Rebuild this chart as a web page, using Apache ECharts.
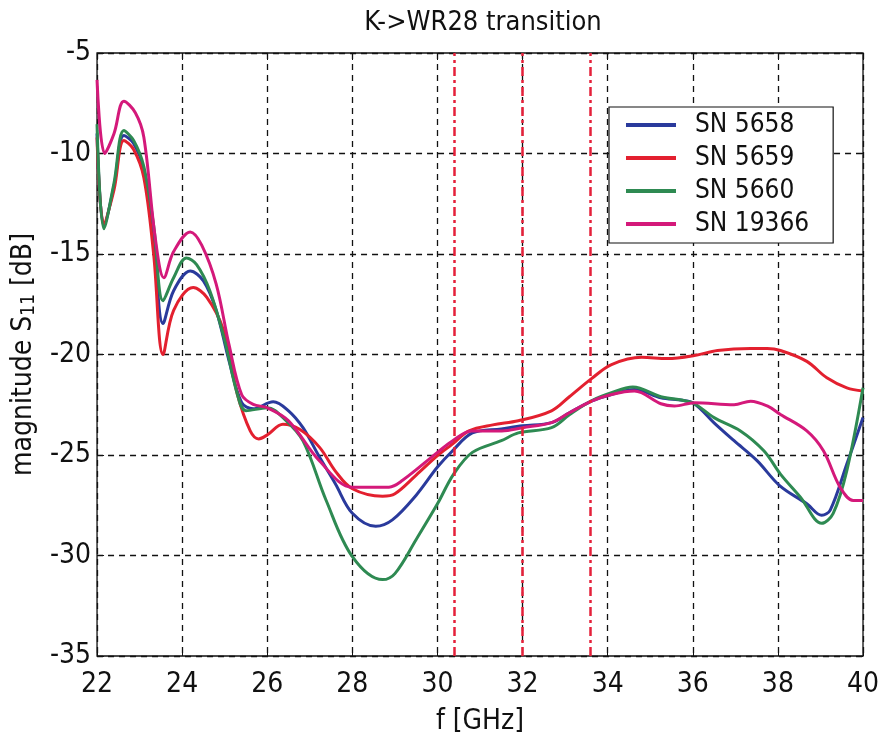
<!DOCTYPE html>
<html>
<head>
<meta charset="utf-8">
<script src="https://cdn.jsdelivr.net/npm/echarts@6/dist/echarts.min.js"></script>
<style>
  html, body { margin: 0; padding: 0; background: #fff; }
  #chart { width: 885px; height: 741px; }
</style>
</head>
<body>
<div id="chart"></div>
<script>
// S11 magnitude vs frequency, K->WR28 transition
var xTicks = [22, 24, 26, 28, 30, 32, 34, 36, 38, 40];
var yTicks = [-35, -30, -25, -20, -15, -10, -5];
var bandLines = [30.4, 32, 33.6];

var sn5658 = [
  [22.0, -9.0], [22.16, -13.6], [22.4, -11.6], [22.63, -9.1], [22.86, -9.5], [23.1, -10.8],
  [23.33, -14.2], [23.55, -18.46], [23.8, -16.83], [24.19, -15.85], [24.5, -16.34], [24.8, -17.8],
  [25.1, -20.3], [25.4, -22.4], [25.67, -22.7], [26.14, -22.35], [26.5, -22.8], [26.84, -23.64],
  [27.2, -25.0], [27.6, -26.43], [28.0, -27.9], [28.55, -28.55], [28.94, -28.23], [29.5, -27.0],
  [30.0, -25.6], [30.35, -24.8], [30.82, -23.9], [31.5, -23.7], [32.0, -23.55], [32.68, -23.39],
  [33.1, -22.9], [33.62, -22.32], [34.09, -21.99], [34.63, -21.74], [35.25, -22.15], [35.76, -22.28],
  [36.04, -22.45], [36.5, -23.4], [36.97, -24.29], [37.51, -25.28], [38.04, -26.52], [38.68, -27.43],
  [39.03, -28.0], [39.23, -27.74], [39.62, -25.45], [40.0, -23.14]
];
var sn5659 = [
  [22.0, -9.2], [22.16, -13.5], [22.4, -11.8], [22.63, -9.35], [22.86, -9.8], [23.1, -11.2],
  [23.33, -15.0], [23.55, -20.0], [23.8, -17.8], [24.26, -16.67], [24.58, -17.16], [24.97, -18.78],
  [25.3, -22.0], [25.6, -23.8], [25.8, -24.2], [26.0, -24.0], [26.37, -23.47], [26.76, -23.72],
  [27.23, -24.62], [27.6, -25.8], [28.0, -26.68], [28.71, -27.05], [29.0, -26.93], [29.5, -26.0],
  [30.0, -25.03], [30.35, -24.46], [30.74, -23.8], [31.3, -23.5], [31.9, -23.3], [32.68, -22.8],
  [33.1, -22.1], [33.62, -21.2], [34.09, -20.5], [34.8, -20.14], [35.4, -20.2], [36.04, -20.05],
  [36.58, -19.8], [37.36, -19.7], [37.75, -19.7], [38.06, -19.8], [38.68, -20.34], [39.15, -21.16],
  [39.62, -21.66], [40.0, -21.82]
];
var sn5660 = [
  [22.0, -8.54], [22.16, -13.74], [22.4, -11.46], [22.63, -8.86], [22.86, -9.35], [23.1, -10.65],
  [23.33, -13.58], [23.55, -17.32], [23.8, -16.18], [24.1, -15.2], [24.34, -15.53], [24.65, -16.83],
  [25.0, -19.3], [25.3, -22.0], [25.5, -22.8], [26.0, -22.65], [26.4, -23.2], [26.84, -24.3],
  [27.38, -27.24], [28.0, -30.06], [28.71, -31.2], [29.0, -30.9], [29.5, -29.2], [30.0, -27.43],
  [30.38, -25.95], [30.82, -24.87], [31.5, -24.29], [31.9, -23.9], [32.68, -23.64], [33.1, -23.0],
  [33.62, -22.3], [34.09, -21.9], [34.59, -21.62], [35.25, -22.1], [35.76, -22.28], [36.04, -22.45],
  [36.5, -23.14], [37.12, -23.8], [37.67, -24.79], [38.06, -25.95], [38.53, -27.1], [39.03, -28.4],
  [39.3, -27.9], [39.62, -25.78], [40.0, -21.66]
];
var sn19366 = [
  [22.0, -6.34], [22.18, -10.0], [22.4, -9.0], [22.63, -7.4], [22.9, -7.97], [23.1, -9.19],
  [23.37, -14.23], [23.57, -16.18], [23.8, -14.88], [24.19, -13.9], [24.46, -14.56], [24.8, -16.5],
  [25.1, -19.5], [25.4, -22.0], [25.67, -22.48], [26.0, -22.65], [26.5, -23.3], [27.23, -25.3],
  [28.0, -26.6], [28.86, -26.6], [29.18, -26.26], [30.0, -24.87], [30.35, -24.3], [30.8, -23.8],
  [31.51, -23.8], [32.0, -23.64], [32.68, -23.39], [33.1, -22.9], [33.62, -22.32], [34.09, -21.99],
  [34.63, -21.82], [35.25, -22.45], [35.57, -22.56], [36.04, -22.4], [36.97, -22.5], [37.36, -22.32],
  [37.75, -22.56], [38.06, -22.98], [38.68, -23.8], [39.07, -24.79], [39.46, -26.6], [39.77, -27.26],
  [40.0, -27.26]
];

var names = ['SN 5658', 'SN 5659', 'SN 5660', 'SN 19366'];
var colors = ['#2a3a9c', '#e3202f', '#2e8a52', '#d4197a'];
var allData = [sn5658, sn5659, sn5660, sn19366];

var FONT = "'Liberation Sans Narrow', 'DejaVu Sans Condensed', 'Liberation Sans', Arial, sans-serif";
var gridDash = { color: '#111', width: 1.3, type: [6, 5] };

var chart = echarts.init(document.getElementById('chart'), null, { renderer: 'canvas' });

var series = allData.map(function (d, i) {
  return {
    name: names[i],
    type: 'line',
    data: d,
    showSymbol: false,
    smooth: 0.35,
    lineStyle: { color: colors[i], width: 3 },
    itemStyle: { color: colors[i] },
    z: 3
  };
});
// red dash-dot band markers
series.push({
  name: 'band',
  type: 'line',
  data: [],
  silent: true,
  markLine: {
    silent: true,
    symbol: ['none', 'none'],
    label: { show: false },
    lineStyle: { color: '#e5203a', width: 2.5, type: [9, 4, 3, 4] },
    data: bandLines.map(function (v) { return { xAxis: v }; })
  }
});

var option = {
  backgroundColor: '#fff',
  animation: false,
  textStyle: { fontFamily: FONT },
  title: {
    text: 'K->WR28 transition',
    left: 478, top: 4, textAlign: 'center',
    textStyle: { fontFamily: FONT, fontSize: 27, fontWeight: 'normal', color: '#111' }
  },
  legend: {
    data: names,
    orient: 'vertical',
    left: 609, top: 107,
    padding: [5, 24, 6, 17],
    itemGap: 7,
    itemWidth: 50, itemHeight: 4,
    icon: 'rect',
    backgroundColor: '#fff',
    borderColor: '#111', borderWidth: 1.2,
    textStyle: { fontFamily: FONT, fontSize: 26, color: '#111', lineHeight: 26, padding: [0, 0, 0, 14] }
  },
  grid: { left: 93, right: 22, top: 53, bottom: 81, show: true, borderColor: '#111', borderWidth: 1.3 },
  xAxis: [{
    type: 'value', min: 22, max: 40, interval: 2,
    name: 'f [GHz]', nameLocation: 'middle', nameGap: 52,
    nameTextStyle: { fontFamily: FONT, fontSize: 28, color: '#111' },
    axisLine: { show: false },
    axisTick: { show: true, inside: true, length: 7, lineStyle: { color: '#111' } },
    axisLabel: { fontFamily: FONT, fontSize: 28, color: '#111', margin: 15,
      formatter: function (v) { return xTicks.indexOf(v) >= 0 ? String(v) : ''; } },
    splitLine: { show: true, lineStyle: gridDash }
  }, {
    type: 'value', min: 22, max: 40, interval: 2, position: 'top',
    axisLine: { show: false }, axisLabel: { show: false }, splitLine: { show: false },
    axisTick: { show: true, inside: true, length: 7, lineStyle: { color: '#111' } }
  }],
  yAxis: [{
    type: 'value', min: -35, max: -5, interval: 5,
    name: '{a|magnitude S}{s|11}{a| [dB]}', nameLocation: 'middle', nameGap: 42, nameRotate: 90,
    nameTextStyle: {
      color: '#111',
      rich: {
        a: { fontFamily: FONT, fontSize: 28, color: '#111', lineHeight: 34 },
        s: { fontFamily: FONT, fontSize: 19, color: '#111', lineHeight: 34, padding: [12, 0, 0, 0] }
      }
    },
    axisLine: { show: false },
    axisTick: { show: true, inside: true, length: 7, lineStyle: { color: '#111' } },
    axisLabel: { fontFamily: FONT, fontSize: 28, color: '#111', margin: 6,
      formatter: function (v) { return yTicks.indexOf(v) >= 0 ? String(v) : ''; } },
    splitLine: { show: true, lineStyle: gridDash }
  }, {
    type: 'value', min: -35, max: -5, interval: 5, position: 'right',
    axisLine: { show: false }, axisLabel: { show: false }, splitLine: { show: false },
    axisTick: { show: true, inside: true, length: 7, lineStyle: { color: '#111' } }
  }],
  series: series
};

chart.setOption(option);
</script>
</body>
</html>
